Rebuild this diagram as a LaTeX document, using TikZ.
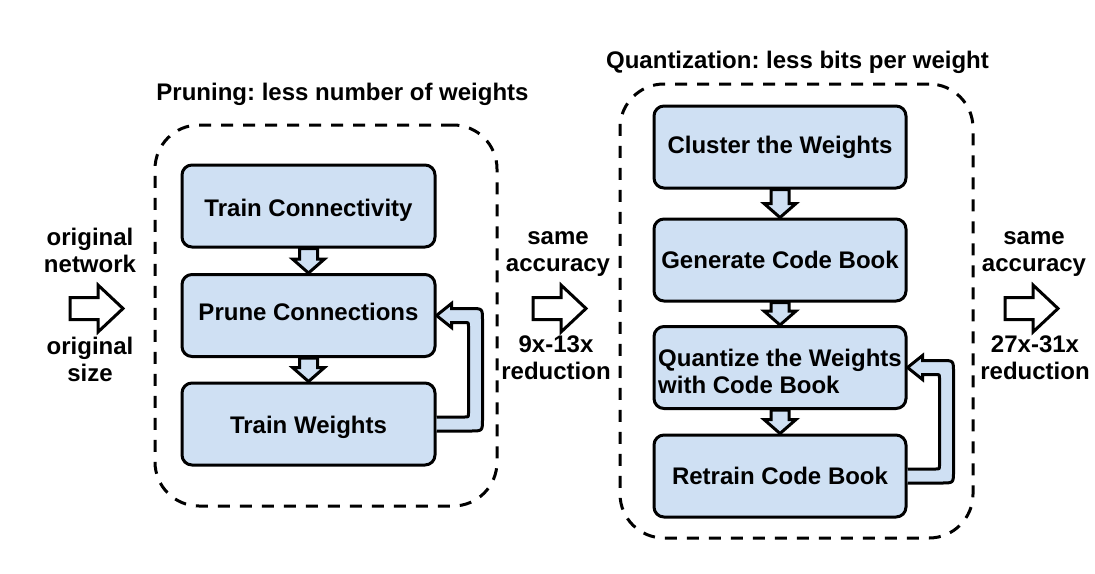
\documentclass[tikz,border=0pt]{standalone}
\usepackage{fontspec}
\setmainfont{Liberation Sans}
\usetikzlibrary{calc}
\definecolor{boxblue}{HTML}{CFE0F3}
\frenchspacing
\newcommand{\shiftln}[2]{\raisebox{#1}[\height][\depth]{#2}}
\newcommand{\dnarrow}[2]{\draw[blk] ($(#1.south)+(-9,0)$) -- ($(#1.south)+(9,0)$) -- ($(#2.north)+(9,-14)$) -- ($(#2.north)+(16,-14)$) -- (#2.north) -- ($(#2.north)+(-16,-14)$) -- ($(#2.north)+(-9,-14)$) -- cycle;}
\newcommand{\fbarrow}[2]{\draw[blk] ($(#1.east)+(0,7)$) -- ($(#1.east)+(34,7)$) .. controls ($(#1.east)+(46,7)$) .. ($(#1.east)+(46,-5)$) -- ($(#2.east)+(46,5)$) .. controls ($(#2.east)+(46,-7)$) .. ($(#2.east)+(34,-7)$) -- ($(#2.east)+(15,-7)$) -- ($(#2.east)+(15,-12)$) -- (#2.east) -- ($(#2.east)+(15,12)$) -- ($(#2.east)+(15,7)$) -- ($(#2.east)+(28,7)$) .. controls ($(#2.east)+(32,7)$) .. ($(#2.east)+(32,11)$) -- ($(#1.east)+(32,-11)$) .. controls ($(#1.east)+(32,-7)$) .. ($(#1.east)+(28,-7)$) -- ($(#1.east)+(0,-7)$);}
\newcommand{\sidearrow}[1]{\draw[side] ($(#1)+(0,-11)$) -- ++(28,0) -- ++(0,-12.5) -- ++(25,23.5) -- ++(-25,23.5) -- ++(0,-12.5) -- ++(-28,0) -- cycle;}
\begin{document}
\begin{tikzpicture}[x=0.5pt,y=-0.5pt,
  box/.style={draw, line width=1.5pt, rounded corners=5pt, fill=boxblue, minimum width=126.5pt, minimum height=41pt, inner sep=0pt, font=\bfseries\fontsize{12pt}{13.5pt}\selectfont, align=center},
  grp/.style={draw, line width=1.5pt, dash pattern=on 6pt off 5pt, rounded corners=22pt, inner sep=0pt},
  lbl/.style={font=\bfseries\fontsize{12pt}{13.5pt}\selectfont, align=center, inner sep=0pt},
  blk/.style={draw, line width=1.5pt, fill=boxblue, line join=miter},
  side/.style={draw, line width=1.5pt, fill=white, line join=miter}]
\useasboundingbox (0,0) rectangle (1095,573);

\node[grp, minimum width=171pt, minimum height=190.5pt] (prun) at (326,315.5) {};
\node[grp, minimum width=176.5pt, minimum height=227pt] (quan) at (796.5,311) {};

\node[lbl, anchor=base] (t1) at (342.5,100) {Pruning: less number of weights};
\node[lbl, anchor=base] (t2) at (797.5,68) {Quantization: less bits per weight};

\node[box] (tc) at (308.5,206) {\shiftln{-2pt}{Train Connectivity}};
\node[box] (pc) at (308.5,315.5) {\shiftln{2pt}{Prune Connections}};
\node[box] (tw) at (308.5,424) {\shiftln{-1.5pt}{Train Weights}};

\node[box, minimum width=126pt] (cw) at (780,147) {Cluster the Weights};
\node[box, minimum width=126pt] (gc) at (780,260) {Generate Code Book};
\node[box, minimum width=126pt, align=left] (qw) at (780,367.5) {\shiftln{-2pt}{Quantize the Weights}\\\shiftln{-2pt}{with Code Book}};
\node[box, minimum width=126pt] (rc) at (780,476) {Retrain Code Book};

\dnarrow{tc}{pc}
\dnarrow{pc}{tw}
\dnarrow{cw}{gc}
\dnarrow{gc}{qw}
\dnarrow{qw}{rc}
\fbarrow{tw}{pc}
\fbarrow{rc}{qw}

\coordinate (sa1) at (70,308.5);
\coordinate (sa2) at (533,308.5);
\coordinate (sa3) at (1005,308.5);
\sidearrow{sa1}
\sidearrow{sa2}
\sidearrow{sa3}

\node[lbl] (l1) at (90,250) {original\\network};
\node[lbl] (l2) at (90,359) {original\\size};
\node[lbl] (m1) at (558,254) {same\\accuracy};
\node[lbl] (m2) at (556,357.5) {9x-13x\\reduction};
\node[lbl] (r1) at (1034,254) {same\\accuracy};
\node[lbl] (r2) at (1035,357.5) {27x-31x\\reduction};
\end{tikzpicture}
\end{document}
